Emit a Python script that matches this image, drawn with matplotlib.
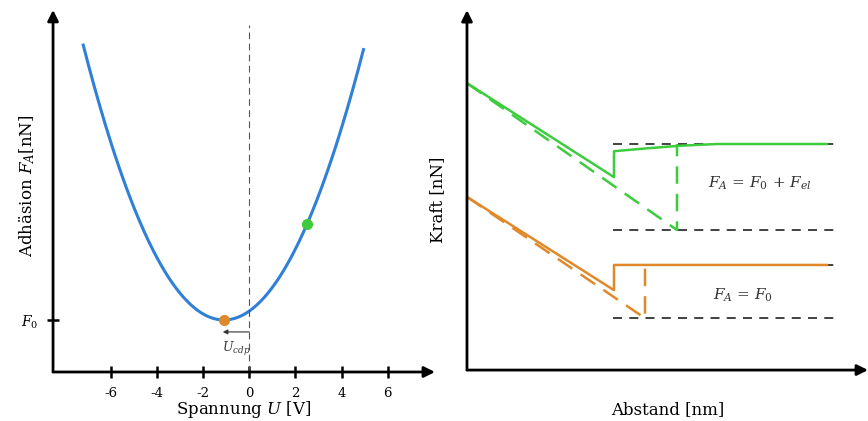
import numpy as np
import matplotlib
matplotlib.use("Agg")
import matplotlib.pyplot as plt

plt.rcParams['font.family'] = ['DejaVu Serif']
plt.rcParams['mathtext.fontset'] = 'dejavuserif'

# linke Seite: Adhäsion über Spannung (Parabel um U_cdp)
u_ticks = [-6, -4, -2, 0, 2, 4, 6]
U_cdp = -1.1
F0 = 1.0
k = 0.142
U_range = (-7.2, 4.95)
U_green = 2.5

# rechte Seite: Kraft-Abstand-Kurven
gruen_x = [0.0, 3.675, 3.675, 4.5, 5.3, 6.25, 9.0]
gruen_y = [7.97, 5.36, 6.08, 6.16, 6.23, 6.28, 6.28]
gruen_d_x = [0.0, 5.25, 5.25]
gruen_d_y = [7.97, 3.89, 6.28]
orange_x = [0.0, 3.675, 3.675, 9.0]
orange_y = [4.81, 2.22, 2.92, 2.92]
orange_d_x = [0.0, 4.45, 4.45]
orange_d_y = [4.81, 1.44, 2.92]
niveaus = [6.28, 3.89, 2.92, 1.44]

blau = '#2f80d6'
gruen = '#3dcc3d'
orange = '#e0892a'

W, H = 868, 421
fig = plt.figure(figsize=(W / 100, H / 100), dpi=100)

def achsen_pfeile(ax):
    for s in ax.spines.values():
        s.set_visible(False)
    kw = dict(arrowstyle='-|>', lw=2, color='k', mutation_scale=16,
              shrinkA=0, shrinkB=0)
    ax.annotate('', xy=(1, 0), xytext=(0, 0), xycoords='axes fraction',
                arrowprops=kw, annotation_clip=False)
    ax.annotate('', xy=(0, 1), xytext=(0, 0), xycoords='axes fraction',
                arrowprops=kw, annotation_clip=False)

def ftext(x, y, s, **kw):
    # Position in Pixeln von oben links
    fig.text(x / W, 1 - y / H, s, ha='center', va='center', **kw)

# --- links ---
ax1 = fig.add_axes([0.0611, 0.1164, 0.440, 0.860])
ax1.set_xlim(-8.51, 8.05)
ax1.set_ylim(0, 6.96)
achsen_pfeile(ax1)

U = np.linspace(U_range[0], U_range[1], 300)
F = F0 + k * (U - U_cdp) ** 2
ax1.plot(U, F, color=blau, lw=2.2)
ax1.plot([0, 0], [0, 6.67], color='#555555', lw=0.8, ls=(0, (6, 4)))
ax1.plot(U_cdp, F0, 'o', color=orange, ms=7, zorder=5)
ax1.plot(U_green, F0 + k * (U_green - U_cdp) ** 2, 'o', color=gruen, ms=7, zorder=5)

ax1.annotate('', xy=(U_cdp - 0.05, 0.77), xytext=(0, 0.77),
             arrowprops=dict(arrowstyle='-|>', lw=0.8, color='#333333',
                             mutation_scale=7, shrinkA=0, shrinkB=0))
ax1.text(U_cdp / 2, 0.44, r'$U_{cdp}$', ha='center', va='center',
         fontsize=9, color='#333333')

ax1.set_xticks(u_ticks)
ax1.set_xticklabels([str(t) for t in u_ticks], fontsize=9.5)
ax1.set_yticks([F0])
ax1.set_yticklabels([r'$F_0$'], fontsize=10)
ax1.tick_params(direction='inout', length=9, width=1.8, pad=6)
ftext(244, 410, r'Spannung $U$ [V]', fontsize=12)
ftext(27, 186, r'Adhäsion $F_A$[nN]', fontsize=12, rotation=90)

# --- rechts ---
ax2 = fig.add_axes([0.538, 0.121, 0.462, 0.855])
ax2.set_xlim(0, 10.025)
ax2.set_ylim(0, 10)
achsen_pfeile(ax2)
ax2.set_xticks([])
ax2.set_yticks([])

for y in niveaus:
    ax2.plot([3.65, 9.3], [y, y], color='#333333', lw=1.3, ls=(0, (5, 4)))
ax2.plot(gruen_x, gruen_y, color=gruen, lw=1.8)
ax2.plot(gruen_d_x, gruen_d_y, color=gruen, lw=1.8, ls=(0, (7, 4)))
ax2.plot(orange_x, orange_y, color=orange, lw=1.8)
ax2.plot(orange_d_x, orange_d_y, color=orange, lw=1.8, ls=(0, (7, 4)))

ax2.text(7.33, 5.19, r'$F_A$ = $F_0$ + $F_{el}$', ha='center', va='center',
         fontsize=11, color='#333333')
ax2.text(6.9, 2.08, r'$F_A$ = $F_0$', ha='center', va='center',
         fontsize=11, color='#333333')
ftext(668, 410, 'Abstand [nm]', fontsize=12)
ftext(438, 200, 'Kraft [nN]', fontsize=12, rotation=90)

fig.savefig('out.png', dpi=100)
